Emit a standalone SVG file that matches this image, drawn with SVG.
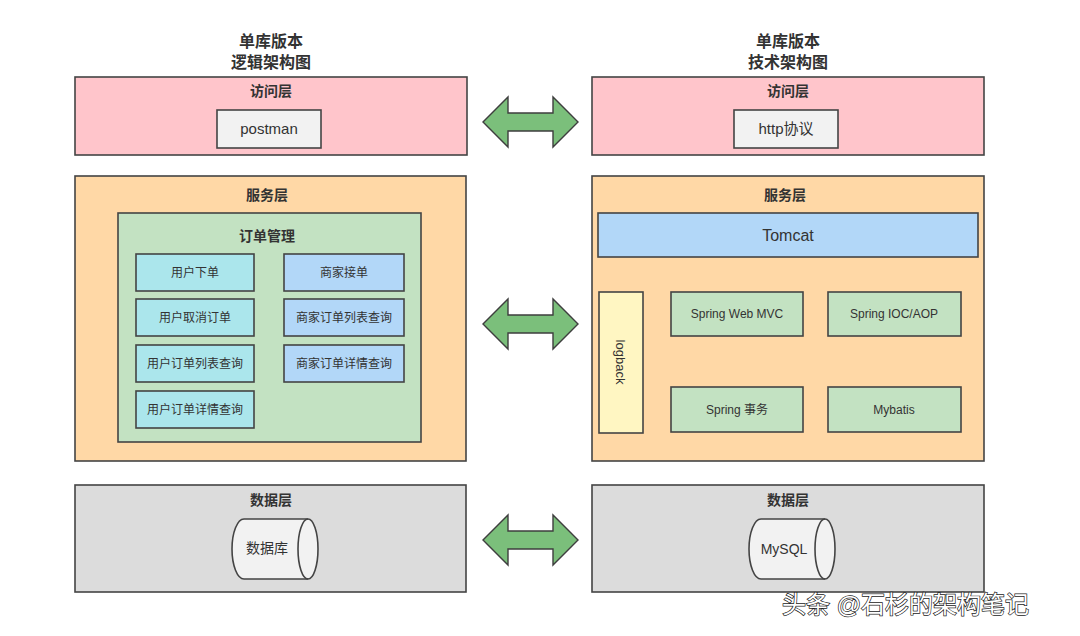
<svg xmlns="http://www.w3.org/2000/svg" width="1080" height="636" viewBox="0 0 1080 636">
<defs>
<style>
text{font-family:"Liberation Sans","Noto Sans CJK SC",sans-serif;fill:#333;text-anchor:middle;}
.title{font-size:16px;font-weight:bold;}
.layer{font-size:14px;font-weight:bold;}
.lbl{font-size:14px;}
.sm{font-size:12px;}
.node rect,.node path{stroke:#444;stroke-width:1.6;}
.pink{fill:#ffc5cb;}
.orange{fill:#ffd8a6;}
.gray{fill:#dcdcdc;}
.white{fill:#f2f2f2;}
.green{fill:#c3e2c2;}
.cyan{fill:#abe6ec;}
.blue{fill:#b2d7f8;}
.yellow{fill:#fff6c2;}
.arrow{fill:#7bbf7b;stroke:#3e3e3e;stroke-width:1.4;}
.wm{font-size:24px;fill:#fff;stroke:#222;stroke-width:1.4;paint-order:stroke;text-anchor:start;}
</style>
</defs>
<rect width="1080" height="636" fill="#fff"/>

<g id="titles">
<text class="title" x="271" y="47">单库版本</text>
<text class="title" x="271" y="68">逻辑架构图</text>
<text class="title" x="788" y="47">单库版本</text>
<text class="title" x="788" y="68">技术架构图</text>
</g>

<g id="left-access" class="node">
<rect class="pink" x="75" y="77" width="392" height="78"/>
<text class="layer" x="271" y="96">访问层</text>
<rect class="white" x="217" y="110" width="104" height="38"/>
<text class="lbl" x="269" y="134" style="font-size:15px">postman</text>
</g>

<g id="right-access" class="node">
<rect class="pink" x="592" y="77" width="392" height="78"/>
<text class="layer" x="788" y="96">访问层</text>
<rect class="white" x="734" y="110" width="104" height="38"/>
<text class="lbl" x="786" y="134" style="font-size:15px">http协议</text>
</g>

<g id="left-service" class="node">
<rect class="orange" x="75" y="176" width="391" height="285"/>
<text class="layer" x="267" y="200">服务层</text>
<rect class="green" x="118" y="213" width="303" height="229"/>
<text class="layer" x="267" y="241">订单管理</text>
<rect class="cyan" x="136" y="254" width="118" height="37"/>
<text class="sm" x="195" y="277">用户下单</text>
<rect class="cyan" x="136" y="299" width="118" height="37"/>
<text class="sm" x="195" y="322">用户取消订单</text>
<rect class="cyan" x="136" y="345" width="118" height="37"/>
<text class="sm" x="195" y="368">用户订单列表查询</text>
<rect class="cyan" x="136" y="391" width="118" height="37"/>
<text class="sm" x="195" y="414">用户订单详情查询</text>
<rect class="blue" x="284" y="254" width="120" height="37"/>
<text class="sm" x="344" y="277">商家接单</text>
<rect class="blue" x="284" y="299" width="120" height="37"/>
<text class="sm" x="344" y="322">商家订单列表查询</text>
<rect class="blue" x="284" y="345" width="120" height="37"/>
<text class="sm" x="344" y="368">商家订单详情查询</text>
</g>

<g id="right-service" class="node">
<rect class="orange" x="592" y="176" width="392" height="285"/>
<text class="layer" x="785" y="200">服务层</text>
<rect class="blue" x="598" y="213" width="380" height="44"/>
<text x="788" y="241" style="font-size:16px">Tomcat</text>
<rect class="yellow" x="599" y="292" width="44" height="141"/>
<text class="sm" transform="translate(616,362) rotate(90)" x="0" y="0" style="font-size:13px">logback</text>
<rect class="green" x="671" y="292" width="132" height="44"/>
<text class="sm" x="737" y="318">Spring Web MVC</text>
<rect class="green" x="828" y="292" width="133" height="44"/>
<text class="sm" x="894" y="318">Spring IOC/AOP</text>
<rect class="green" x="671" y="387" width="132" height="45"/>
<text class="sm" x="737" y="414">Spring 事务</text>
<rect class="green" x="828" y="387" width="133" height="45"/>
<text class="sm" x="894" y="414">Mybatis</text>
</g>

<g id="left-data" class="node">
<rect class="gray" x="75" y="485" width="391" height="107"/>
<text class="layer" x="271" y="505">数据层</text>
<path class="white" d="M244,519 L308,519 A10,30 0 0 1 308,579 L244,579 A12,30 0 0 1 244,519 Z"/>
<path fill="none" d="M308,519 A10,30 0 0 0 308,579"/>
<text class="lbl" x="267" y="553">数据库</text>
</g>

<g id="right-data" class="node">
<rect class="gray" x="592" y="485" width="392" height="107"/>
<text class="layer" x="788" y="505">数据层</text>
<path class="white" d="M761,519 L825,519 A10,30 0 0 1 825,579 L761,579 A12,30 0 0 1 761,519 Z"/>
<path fill="none" d="M825,519 A10,30 0 0 0 825,579"/>
<text class="lbl" x="784" y="554">MySQL</text>
</g>

<g id="connectors">
<path class="arrow" d="M483,122 L508,97 L508,113 L553,113 L553,97 L578,122 L553,147 L553,131 L508,131 L508,147 Z"/>
<path class="arrow" d="M483,324 L508,299 L508,315 L553,315 L553,299 L578,324 L553,349 L553,333 L508,333 L508,349 Z"/>
<path class="arrow" d="M483,540 L508,515 L508,531 L553,531 L553,515 L578,540 L553,565 L553,549 L508,549 L508,565 Z"/>
</g>

<g id="watermark">
<text class="wm" x="782" y="613">头条 @石杉的架构笔记</text>
</g>
</svg>
